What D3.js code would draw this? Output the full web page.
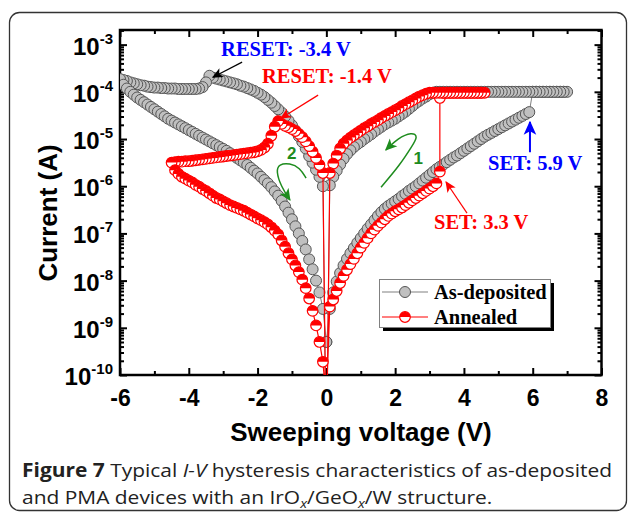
<!DOCTYPE html>
<html>
<head>
<meta charset="utf-8">
<script src="https://cdn.jsdelivr.net/npm/d3@7"></script>
<style>
  body { margin: 0; background: #fff; }
</style>
</head>
<body>
<div id="chart"></div>
<script>
// sweep step of the measurement, volts
const step = 0.1

// as-deposited device, log10 of |current| in sweep order
const asDepHrsPos = [  // 0 -> 5.9 V
  -9.3, -8.6, -8.25, -8.02, -7.84, -7.68, -7.54, -7.42, -7.31, -7.2,
  -7.1, -7.0, -6.9, -6.81, -6.72, -6.63, -6.55, -6.48, -6.42, -6.37,
  -6.32, -6.27, -6.21, -6.16, -6.1, -6.05, -6.0, -5.94, -5.88, -5.82,
  -5.76, -5.7, -5.64, -5.59, -5.54, -5.49, -5.44, -5.39, -5.35, -5.3,
  -5.25, -5.2, -5.15, -5.1, -5.05, -5.0, -4.95, -4.91, -4.87, -4.83,
  -4.79, -4.75, -4.71, -4.67, -4.63, -4.59, -4.55, -4.51, -4.47, -4.43]
const asDepSet = [  // 6.0 -> 7.0 V, compliance
  -4.0, -4.0, -4.0, -4.0, -4.0, -4.0, -4.0, -4.0, -4.0, -4.0, -4.0]
const asDepLrsPos = [  // 6.9 -> 0.1 V
  -4.0, -4.0, -4.0, -4.0, -4.0, -4.0, -4.0, -4.0, -4.0, -4.0,
  -4.0, -4.0, -4.0, -4.0, -4.0, -4.0, -4.0, -4.0, -4.0, -4.0,
  -4.0, -4.0, -4.0, -4.0, -4.0, -4.0, -4.0, -4.0, -4.0, -4.0,
  -4.0, -4.0, -4.0, -4.0, -4.0, -4.0, -4.0, -4.0,
  -4.02, -4.05, -4.1, -4.14, -4.19, -4.24, -4.3, -4.36, -4.42, -4.47,
  -4.52, -4.57, -4.61, -4.65, -4.69, -4.74, -4.79, -4.84, -4.9, -4.95,
  -5.0, -5.06, -5.11, -5.17, -5.24, -5.32, -5.42, -5.54, -5.67, -5.8, -5.98]
const asDepZero = [-12]  // 0 V, below the axis
const asDepLrsNeg = [  // -0.1 -> -6.0 V
  -6.0, -5.8, -5.65, -5.5, -5.36, -5.2, -5.06, -4.94, -4.82, -4.71,
  -4.61, -4.52, -4.44, -4.37, -4.3, -4.23, -4.17, -4.11, -4.06, -4.02,
  -3.98, -3.95, -3.92, -3.89, -3.87, -3.84, -3.82, -3.8, -3.78, -3.76,
  -3.74, -3.72, -3.7, -3.66, -3.8, -3.9, -3.93, -3.94, -3.94, -3.94,
  -3.94, -3.94, -3.94, -3.93, -3.93, -3.93, -3.92, -3.92, -3.91, -3.91,
  -3.9, -3.89, -3.87, -3.86, -3.84, -3.82, -3.8, -3.77, -3.75, -3.73]
const asDepHrsNeg = [  // -5.9 -> 0 V
  -3.85, -3.93, -4.0, -4.06, -4.12, -4.17, -4.22, -4.27, -4.32, -4.37,
  -4.42, -4.47, -4.52, -4.57, -4.61, -4.65, -4.69, -4.73, -4.77, -4.81,
  -4.85, -4.89, -4.93, -4.97, -5.01, -5.05, -5.09, -5.13, -5.17, -5.21,
  -5.25, -5.3, -5.35, -5.4, -5.45, -5.5, -5.55, -5.61, -5.67, -5.73,
  -5.8, -5.87, -5.94, -6.02, -6.11, -6.2, -6.31, -6.43, -6.56, -6.7,
  -6.85, -7.0, -7.16, -7.34, -7.55, -7.76, -8.0, -8.25, -8.6, -9.3]

// annealed device
const annHrsPos = [  // 0 -> 3.3 V
  -10.5, -8.55, -8.4, -8.22, -8.05, -7.9, -7.77, -7.65, -7.54, -7.42,
  -7.3, -7.2, -7.1, -7.0, -6.92, -6.84, -6.77, -6.7, -6.63, -6.58,
  -6.53, -6.49, -6.45, -6.4, -6.35, -6.3, -6.25, -6.2, -6.15, -6.1,
  -6.05, -6.0, -5.94, -5.69]
const annSet = [  // 3.3 -> 4.6 V
  -4.13, -4.02, -4.02, -4.02, -4.02, -4.02, -4.02, -4.02, -4.02, -4.02,
  -4.02, -4.02, -4.02, -4.02]
const annLrsPos = [  // 4.5 -> 0.1 V
  -4.02, -4.02, -4.02, -4.02, -4.02, -4.02, -4.02, -4.02, -4.02, -4.02,
  -4.02, -4.02, -4.02, -4.02, -4.02, -4.02,
  -4.04, -4.07, -4.1, -4.14, -4.18, -4.22, -4.26, -4.3, -4.35, -4.39,
  -4.43, -4.47, -4.51, -4.55, -4.6, -4.64, -4.68, -4.73, -4.77, -4.82,
  -4.87, -4.92, -4.97, -5.03, -5.1, -5.2, -5.35, -5.52, -5.72]
const annZero = [-12]
const annLrsNeg = [  // -0.1 -> -4.5 V
  -5.72, -5.55, -5.4, -5.27, -5.15, -5.05, -4.96, -4.89, -4.83, -4.79,
  -4.75, -4.72, -4.68, -4.62, -4.74, -4.93, -5.1, -5.18, -5.23, -5.26,
  -5.28, -5.29, -5.3, -5.31, -5.32, -5.33, -5.34, -5.35, -5.36, -5.37,
  -5.38, -5.39, -5.4, -5.41, -5.42, -5.43, -5.44, -5.45, -5.46, -5.47,
  -5.47, -5.48, -5.48, -5.49, -5.5]
const annHrsNeg = [  // -4.4 -> 0 V
  -5.66, -5.74, -5.8, -5.84, -5.88, -5.92, -5.97, -6.01, -6.06, -6.1,
  -6.15, -6.2, -6.25, -6.28, -6.32, -6.36, -6.4, -6.43, -6.46, -6.49,
  -6.52, -6.56, -6.6, -6.64, -6.68, -6.72, -6.76, -6.81, -6.87, -6.94,
  -7.02, -7.15, -7.28, -7.42, -7.55, -7.68, -7.82, -7.98, -8.16, -8.38,
  -8.64, -8.95, -9.3, -9.72, -10.6]

const xTicks = [-6, -4, -2, 0, 2, 4, 6, 8]
const xMinor = [-5, -3, -1, 1, 3, 5, 7]
const yExps = [-10, -9, -8, -7, -6, -5, -4, -3]

const red = '#ff0000'
const blue = '#0000ff'
const green = '#1e8c1e'

// annotation positions are in data units (V, log10 I)
const notes = [
  { text: 'RESET: -3.4 V', v: -3.06, l: -3.24, color: blue },
  { text: 'RESET: -1.4 V', v: -1.87, l: -3.81, color: red },
  { text: 'SET: 5.9 V', v: 4.70, l: -5.66, color: blue },
  { text: 'SET: 3.3 V', v: 3.13, l: -6.91, color: red }
]
const arrows = [
  { from: [-2.45, -3.37], to: [-3.30, -3.69], color: '#000' },
  { from: [-0.24, -4.07], to: [-1.32, -4.56], color: red },
  { from: [5.92, -5.28], to: [5.92, -4.64], color: blue },
  { from: [4.09, -6.57], to: [3.48, -5.91], color: red }
]
const sweep1 = [[1.59, -6.02], [2.14, -5.55], [2.49, -5.15], [2.67, -4.94], [2.49, -4.85], [2.08, -4.98], [1.73, -5.23]]
const sweep2 = [[-0.59, -5.83], [-0.77, -5.61], [-1.06, -5.51], [-1.38, -5.53], [-1.46, -5.68], [-1.32, -6.0], [-1.06, -6.29]]
const sweepLabels = [{ text: '1', v: 2.67, l: -5.40 }, { text: '2', v: -1.01, l: -5.30 }]

let branch = (v0, dir, logs) => {
  return logs.map((l, i) => ({ v: Math.round((v0 + dir * i * step) * 10) / 10, c: Math.pow(10, l) }))
}

let asDep = [].concat(
  branch(0, 1, asDepHrsPos), branch(6, 1, asDepSet), branch(6.9, -1, asDepLrsPos),
  branch(0, 1, asDepZero), branch(-0.1, -1, asDepLrsNeg), branch(-5.9, 1, asDepHrsNeg))
let annealed = [].concat(
  branch(0, 1, annHrsPos), branch(3.3, 1, annSet), branch(4.5, -1, annLrsPos),
  branch(0, 1, annZero), branch(-0.1, -1, annLrsNeg), branch(-4.4, 1, annHrsNeg))

let svg = d3.select('#chart')
  .append('svg')
    .attr('width', 629)
    .attr('height', 514)
    .style('display', 'block')

let x = d3.scaleLinear().domain([-6, 8]).range([120, 601.5])
let y = d3.scaleLog().domain([1e-10, Math.pow(10, -2.69)]).range([375, 30])
let yl = l => y(Math.pow(10, l))

// outer frame
svg.append('rect')
  .attr('x', 9.5).attr('y', 12.5)
  .attr('width', 617).attr('height', 498)
  .attr('rx', 10)
  .attr('fill', 'none')
  .attr('stroke', '#333')
  .attr('stroke-width', 1.3)

let defs = svg.append('defs')
defs.append('clipPath').attr('id', 'plot')
  .append('rect').attr('x', 120).attr('y', 30).attr('width', 481.5).attr('height', 345)

let arrowHead = (id, color, size) => {
  defs.append('marker')
    .attr('id', id)
    .attr('viewBox', '0 -5 10 10')
    .attr('refX', 9).attr('refY', 0)
    .attr('markerUnits', 'userSpaceOnUse')
    .attr('markerWidth', size).attr('markerHeight', size)
    .attr('orient', 'auto')
    .append('path')
      .attr('d', 'M0,-4.5L10,0L0,4.5L2.5,0Z')
      .attr('fill', color)
}
arrowHead('ah-black', '#000', 11)
arrowHead('ah-red', red, 11)
arrowHead('ah-blue', blue, 14)
arrowHead('ah-green', green, 12)

// ticks, all pointing inwards
let noLabel = () => ''
let axisStyle = g => {
  g.select('.domain').remove()
  g.selectAll('.tick line').attr('stroke', '#000').attr('stroke-width', 2)
}
svg.append('g').attr('transform', 'translate(0,375)')
  .call(d3.axisBottom(x).tickValues(xTicks).tickSizeInner(-7).tickSizeOuter(0).tickPadding(15).tickFormat(d => String(d)))
  .call(axisStyle)
  .call(g => g.selectAll('text')
    .attr('font-family', 'Liberation Sans, Arial, sans-serif')
    .attr('font-weight', 'bold')
    .attr('font-size', 23)
    .attr('fill', '#000'))
svg.append('g').attr('transform', 'translate(0,375)')
  .call(d3.axisBottom(x).tickValues(xMinor).tickSizeInner(-4).tickSizeOuter(0).tickFormat(noLabel))
  .call(axisStyle)
svg.append('g').attr('transform', 'translate(0,30)')
  .call(d3.axisTop(x).tickValues(xTicks).tickSizeInner(-7).tickSizeOuter(0).tickFormat(noLabel))
  .call(axisStyle)
svg.append('g').attr('transform', 'translate(0,30)')
  .call(d3.axisTop(x).tickValues(xMinor).tickSizeInner(-4).tickSizeOuter(0).tickFormat(noLabel))
  .call(axisStyle)

let yMajor = yExps.map(e => Math.pow(10, e))
let yMinorVals = []
yExps.forEach(e => {
  for (let k = 2; k <= 9; k++) {
    let v = k * Math.pow(10, e)
    if (y(v) >= 30) yMinorVals.push(v)
  }
})
let yAxes = [
  [d3.axisLeft, 120],
  [d3.axisRight, 601.5]
]
yAxes.forEach(([fn, px]) => {
  svg.append('g').attr('transform', `translate(${px},0)`)
    .call(fn(y).tickValues(yMajor).tickSizeInner(-7).tickSizeOuter(0).tickFormat(noLabel))
    .call(axisStyle)
  svg.append('g').attr('transform', `translate(${px},0)`)
    .call(fn(y).tickValues(yMinorVals).tickSizeInner(-4).tickSizeOuter(0).tickFormat(noLabel))
    .call(axisStyle)
})

// y tick labels as powers of ten
let yLabels = svg.append('g')
  .attr('font-family', 'Liberation Sans, Arial, sans-serif')
  .attr('font-weight', 'bold')
  .attr('fill', '#000')
  .selectAll('text')
  .data(yExps)
  .enter()
  .append('text')
    .attr('x', 113)
    .attr('y', e => y(Math.pow(10, e)) + 10)
    .attr('text-anchor', 'end')
yLabels.append('tspan').attr('font-size', 24).text('10')
yLabels.append('tspan').attr('font-size', 15).attr('dy', -11).text(e => e)

// plot frame
svg.append('rect')
  .attr('x', 120).attr('y', 30)
  .attr('width', 481.5).attr('height', 345)
  .attr('fill', 'none')
  .attr('stroke', '#000')
  .attr('stroke-width', 2.5)

// axis titles
svg.append('text')
  .attr('transform', 'translate(57,213) rotate(-90)')
  .attr('text-anchor', 'middle')
  .attr('font-family', 'Liberation Sans, Arial, sans-serif')
  .attr('font-weight', 'bold')
  .attr('font-size', 26)
  .text('Current (A)')
svg.append('text')
  .attr('x', 361).attr('y', 441)
  .attr('text-anchor', 'middle')
  .attr('font-family', 'Liberation Sans, Arial, sans-serif')
  .attr('font-weight', 'bold')
  .attr('font-size', 26)
  .text('Sweeping voltage (V)')

// data
let plot = svg.append('g').attr('clip-path', 'url(#plot)')
let line = d3.line().x(d => x(d.v)).y(d => y(d.c))

plot.append('path')
  .datum(asDep)
  .attr('d', line)
  .attr('fill', 'none')
  .attr('stroke', '#808080')
  .attr('stroke-width', 1)

plot.selectAll('circle.asdep')
  .data(asDep)
  .enter()
  .append('circle')
    .attr('class', 'asdep')
    .attr('cx', d => x(d.v))
    .attr('cy', d => y(d.c))
    .attr('r', 5.5)
    .attr('fill', '#c0c0c0')
    .attr('stroke', '#555')
    .attr('stroke-width', 1)

plot.append('path')
  .datum(annealed)
  .attr('d', line)
  .attr('fill', 'none')
  .attr('stroke', red)
  .attr('stroke-width', 1.2)

let halfMarker = (sel, r) => {
  sel.append('circle').attr('r', r).attr('fill', '#fff').attr('stroke', red).attr('stroke-width', 1.2)
  sel.append('path').attr('d', `M${-r},0A${r},${r} 0 0,1 ${r},0Z`).attr('fill', red)
}
plot.selectAll('g.ann')
  .data(annealed)
  .enter()
  .append('g')
    .attr('class', 'ann')
    .attr('transform', d => `translate(${x(d.v)},${y(d.c)})`)
    .call(halfMarker, 5.3)

// annotations
let ann = svg.append('g')
ann.selectAll('line.arrow')
  .data(arrows)
  .enter()
  .append('line')
    .attr('class', 'arrow')
    .attr('x1', d => x(d.from[0])).attr('y1', d => yl(d.from[1]))
    .attr('x2', d => x(d.to[0])).attr('y2', d => yl(d.to[1]))
    .attr('stroke', d => d.color)
    .attr('stroke-width', d => d.color === blue ? 2 : 1.2)
    .attr('marker-end', d => d.color === blue ? 'url(#ah-blue)' : d.color === red ? 'url(#ah-red)' : 'url(#ah-black)')

ann.selectAll('text.note')
  .data(notes)
  .enter()
  .append('text')
    .attr('class', 'note')
    .attr('x', d => x(d.v))
    .attr('y', d => yl(d.l))
    .attr('fill', d => d.color)
    .attr('font-family', 'Liberation Serif, Times New Roman, serif')
    .attr('font-weight', 'bold')
    .attr('font-size', 20.5)
    .text(d => d.text)

let curve = d3.line().x(d => x(d[0])).y(d => yl(d[1])).curve(d3.curveBasis)
ann.selectAll('path.sweep')
  .data([sweep1, sweep2])
  .enter()
  .append('path')
    .attr('class', 'sweep')
    .attr('d', curve)
    .attr('fill', 'none')
    .attr('stroke', green)
    .attr('stroke-width', 1.5)
    .attr('marker-end', 'url(#ah-green)')
ann.selectAll('text.sweep')
  .data(sweepLabels)
  .enter()
  .append('text')
    .attr('class', 'sweep')
    .attr('x', d => x(d.v))
    .attr('y', d => yl(d.l) + 6)
    .attr('text-anchor', 'middle')
    .attr('fill', green)
    .attr('font-family', 'Liberation Sans, Arial, sans-serif')
    .attr('font-weight', 'bold')
    .attr('font-size', 17)
    .text(d => d.text)

// legend
let legend = svg.append('g')
legend.append('rect').attr('x', 383).attr('y', 283).attr('width', 171).attr('height', 48).attr('fill', '#000')
legend.append('rect').attr('x', 379.5).attr('y', 279.5).attr('width', 171).attr('height', 48)
  .attr('fill', '#fff').attr('stroke', '#808080').attr('stroke-width', 1)
let rows = [
  { name: 'As-deposited', color: '#808080', y: 292 },
  { name: 'Annealed', color: red, y: 317 }
]
rows.forEach((r, i) => {
  legend.append('line').attr('x1', 382).attr('x2', 428).attr('y1', r.y).attr('y2', r.y)
    .attr('stroke', r.color).attr('stroke-width', 1.2)
  if (i === 0) {
    legend.append('circle').attr('cx', 405).attr('cy', r.y).attr('r', 5.5)
      .attr('fill', '#c0c0c0').attr('stroke', '#555')
  } else {
    legend.append('g').attr('transform', `translate(405,${r.y})`).call(halfMarker, 5.3)
  }
  legend.append('text')
    .attr('x', 434).attr('y', r.y + 7)
    .attr('font-family', 'Liberation Serif, Times New Roman, serif')
    .attr('font-weight', 'bold')
    .attr('font-size', 20.5)
    .text(r.name)
})

// caption
let cap = svg.append('g')
  .attr('font-family', 'Open Sans, Noto Sans, sans-serif')
  .attr('font-size', 19)
  .attr('fill', '#222')
let line1 = cap.append('text').attr('x', 22).attr('y', 477)
line1.append('tspan').attr('font-weight', 'bold').text('Figure 7')
line1.append('tspan').text(' Typical ')
line1.append('tspan').attr('font-style', 'italic').text('I-V')
line1.append('tspan').text(' hysteresis characteristics of as-deposited')
let line2 = cap.append('text').attr('x', 22).attr('y', 504)
line2.append('tspan').text('and PMA devices with an IrO')
line2.append('tspan').attr('font-style', 'italic').attr('font-size', 13).attr('dy', 4).text('x')
line2.append('tspan').attr('dy', -4).text('/GeO')
line2.append('tspan').attr('font-style', 'italic').attr('font-size', 13).attr('dy', 4).text('x')
line2.append('tspan').attr('dy', -4).text('/W structure.')

let f = 590 / line1.node().getComputedTextLength()
line1.attr('textLength', 590).attr('lengthAdjust', 'spacingAndGlyphs')
line2.attr('textLength', line2.node().getComputedTextLength() * f).attr('lengthAdjust', 'spacingAndGlyphs')
</script>
</body>
</html>
